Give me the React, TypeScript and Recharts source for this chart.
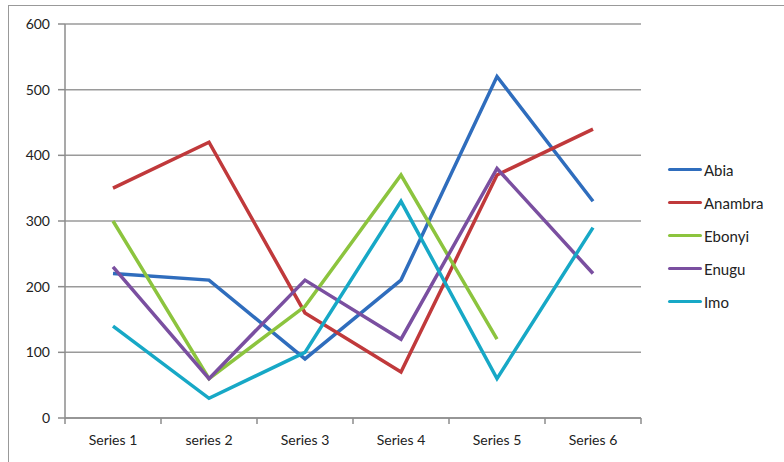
import React from 'react';
import { LineChart, Line, XAxis, YAxis, CartesianGrid } from 'recharts';

const categories = ['Series 1', 'series 2', 'Series 3', 'Series 4', 'Series 5', 'Series 6'];
const abia = [220, 210, 90, 210, 520, 330];
const anambra = [350, 420, 160, 70, 370, 440];
const ebonyi = [300, 60, 170, 370, 120, null];
const enugu = [230, 60, 210, 120, 380, 220];
const imo = [140, 30, 100, 330, 60, 290];
const yTicks = [0, 100, 200, 300, 400, 500, 600];

const series = [
  { key: 'Abia', values: abia, color: '#2f6dbd' },
  { key: 'Anambra', values: anambra, color: '#c0393b' },
  { key: 'Ebonyi', values: ebonyi, color: '#8cc43e' },
  { key: 'Enugu', values: enugu, color: '#7a4fa0' },
  { key: 'Imo', values: imo, color: '#17a8c6' },
];

const data = categories.map((name, i) => {
  const row: Record<string, string | number | null> = { name };
  series.forEach((s) => (row[s.key] = s.values[i]));
  return row;
});

const FONT = 'Lato, "Open Sans", sans-serif';
const AXIS = '#8c8c8c';
const STEP = 96;

const XTick = (props: any) => {
  const { x, y, payload, index } = props;
  const last = index === categories.length - 1;
  return (
    <g>
      <line x1={x - STEP / 2} x2={x - STEP / 2} y1={y} y2={y + 6} stroke={AXIS} strokeWidth={1.5} />
      {last && <line x1={x + STEP / 2} x2={x + STEP / 2} y1={y} y2={y + 6} stroke={AXIS} strokeWidth={1.5} />}
      <text x={x} y={y + 27} textAnchor="middle" fontSize={14} fill="#222" fontFamily={FONT}>
        {payload.value}
      </text>
    </g>
  );
};

const LegendBox = () => (
  <div style={{ position: 'absolute', left: 668, top: 153, fontFamily: FONT, fontSize: 15, color: '#222' }}>
    {series.map((s) => (
      <div key={s.key} style={{ display: 'flex', alignItems: 'center', height: 33 }}>
        <span style={{ display: 'inline-block', width: 34, height: 3, background: s.color, borderRadius: 2, marginRight: 2 }} />
        {s.key}
      </div>
    ))}
  </div>
);

export default function App() {
  return (
    <div style={{ position: 'fixed', left: 0, top: 0, width: 784, height: 462, background: '#fff' }}>
      <div style={{ position: 'absolute', left: 8, top: 5, right: -5, bottom: -5, borderTop: '1px solid #999', borderLeft: '1px solid #999' }} />
      <LineChart width={784} height={462} data={data} margin={{ top: 24, right: 143, left: 0, bottom: 0 }}>
        <CartesianGrid vertical={false} stroke="#9a9a9a" strokeWidth={1.5} />
        <XAxis
          dataKey="name"
          padding={{ left: STEP / 2, right: STEP / 2 }}
          height={44}
          tickLine={false}
          tickSize={0}
          tickMargin={0}
          stroke={AXIS}
          strokeWidth={1.5}
          tick={<XTick />}
          interval={0}
        />
        <YAxis
          domain={[0, 600]}
          ticks={yTicks}
          width={65}
          stroke={AXIS}
          strokeWidth={1.5}
          tickSize={7}
          tickMargin={8}
          tick={{ fontSize: 14, fill: '#222', fontFamily: FONT }}
          interval={0}
        />
        {series.map((s) => (
          <Line
            key={s.key}
            dataKey={s.key}
            stroke={s.color}
            strokeWidth={3.5}
            dot={false}
            activeDot={false}
            isAnimationActive={false}
          />
        ))}
      </LineChart>
      <LegendBox />
    </div>
  );
}
